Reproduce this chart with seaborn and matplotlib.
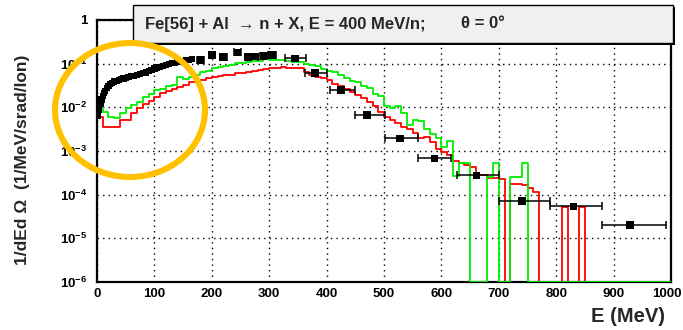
import numpy as np
import pandas as pd
import matplotlib
matplotlib.use("Agg")
import matplotlib.pyplot as plt
import matplotlib.transforms as mtransforms
import seaborn as sns
from matplotlib.patches import Rectangle, Ellipse

# ---------------- data ----------------
bin_width = 10  # MeV
bin_lo = list(range(0, 1000, 10))

# log10 of the simulated spectra per 10 MeV bin (None = empty bin)
red_log10 = [
    -2.21, -2.44, -2.44, -2.44, -2.29, -2.29, -2.14, -2.02, -1.93, -1.85,
    -1.76, -1.68, -1.63, -1.58, -1.53, -1.49, -1.43, -1.39, -1.37, -1.33,
    -1.30, -1.29, -1.26, -1.25, -1.22, -1.21, -1.18, -1.17, -1.14, -1.13,
    -1.11, -1.10, -1.07, -1.09, -1.10, -1.11, -1.20, -1.27, -1.30, -1.32,
    -1.38, -1.46, -1.52, -1.57, -1.64, -1.72, -1.79, -1.87, -1.98, -2.10,
    -2.21, -2.29, -2.35, -2.45, -2.49, -2.59, -2.70, -2.68, -2.80, -2.95,
    -3.03, -3.09, -3.24, -3.28, -3.32, -3.36, -3.55, -3.55, -3.62, -3.62,
    -3.64, None, -3.76, -3.76, -3.78, -3.85, -3.94, None, None, None,
    None, -4.28, None, None, -4.28, None, None, None, None, None,
    None, None, None, None, None, None, None, None, None, None,
]
green_log10 = [
    -1.87, -2.10, -2.22, -2.25, -2.12, -2.02, -1.95, -1.88, -1.76, -1.70,
    -1.60, -1.58, -1.52, -1.49, -1.30, -1.36, -1.30, -1.26, -1.18, -1.16,
    -1.10, -1.08, -1.06, -1.02, -0.99, -0.98, -0.96, -0.95, -0.93, -0.88,
    -0.92, -0.92, -0.92, -0.94, -0.96, -0.97, -1.00, -1.04, -1.05, -1.12,
    -1.16, -1.20, -1.25, -1.33, -1.40, -1.42, -1.50, -1.56, -1.70, -1.74,
    -1.98, -2.02, -1.98, -2.14, -2.40, -2.30, -2.32, -2.50, -2.60, -2.70,
    -2.90, -2.78, -3.58, -3.28, -3.28, None, None, None, -3.60, -3.28,
    None, None, -3.60, -3.60, -3.28, None, None, None, None, None,
    None, None, None, None, None, None, None, None, None, None,
    None, None, None, None, None, None, None, None, None, None,
]

# measured points, dense low-energy part
dense_E = [2, 4, 6, 8, 10, 12, 14, 17, 20, 23, 26, 30, 34, 38, 42, 46, 50, 55,
           60, 65, 70, 75, 80, 85, 90, 95, 100, 105, 110, 115, 120, 125, 130,
           135, 140, 145, 150, 155, 160, 165]
dense_log10 = [-2.20, -2.05, -1.92, -1.82, -1.74, -1.67, -1.62, -1.56, -1.51,
               -1.47, -1.44, -1.41, -1.39, -1.37, -1.35, -1.34, -1.33, -1.31,
               -1.29, -1.28, -1.26, -1.24, -1.22, -1.20, -1.17, -1.14, -1.11,
               -1.09, -1.07, -1.05, -1.03, -1.01, -0.99, -0.98, -0.96, -0.95,
               -0.93, -0.92, -0.91, -0.90]

# measured points with horizontal (bin) error bars
pts_E = [180, 200, 220, 245, 262, 275, 290, 305, 345, 380, 425, 470, 528, 588,
         661, 740, 830, 929]
pts_log10 = [-0.92, -0.80, -0.85, -0.74, -0.85, -0.84, -0.82, -0.80, -0.88,
             -1.22, -1.60, -2.18, -2.71, -3.17, -3.56, -4.14, -4.27, -4.69]
pts_Elo = [175, 195, 214, 239, 257, 269, 284, 298, 327, 362, 406, 449, 501,
           559, 627, 701, 789, 879]
pts_Ehi = [186, 206, 226, 251, 268, 281, 296, 312, 364, 400, 449, 501, 559,
           617, 701, 789, 879, 991]

title_txt = "Fe[56] + Al  \u2192 n + X, E = 400 MeV/n;"
theta_txt = "\u03b8 = 0\u00b0"
ylabel_txt = "1/dEd \u03a9  (1/MeV/srad/Ion)"
xlabel_txt = "E (MeV)"

# ---------------- style ----------------
sns.set_theme(style="white")
plt.rcParams["font.family"] = ["Liberation Sans", "DejaVu Sans"]
plt.rcParams["font.weight"] = "bold"
plt.rcParams["mathtext.fontset"] = "custom"
plt.rcParams["mathtext.rm"] = "Liberation Sans:bold"
plt.rcParams["mathtext.it"] = "Liberation Sans:bold"
plt.rcParams["mathtext.bf"] = "Liberation Sans:bold"

W, H = 683, 330
fig = plt.figure(figsize=(W / 100, H / 100), dpi=100)
fig.patch.set_facecolor("white")
ax = fig.add_axes([97 / W, 1 - 282 / H, (671 - 97) / W, (282 - 20) / H])
ax.set_facecolor("white")

YMIN, YMAX = 1e-6, 1.0


def hist_frame(vals):
    y = [10 ** v if v is not None else YMIN for v in vals]
    x = bin_lo + [bin_lo[-1] + bin_width]
    y = y + [y[-1]]
    return pd.DataFrame({"E": x, "v": y})


sns.lineplot(data=hist_frame(red_log10), x="E", y="v", ax=ax, color="#ff0000",
             lw=1.3, drawstyle="steps-post", estimator=None, sort=False,
             zorder=3)
sns.lineplot(data=hist_frame(green_log10), x="E", y="v", ax=ax, color="#00ee00",
             lw=1.3, drawstyle="steps-post", estimator=None, sort=False,
             zorder=4)

dense = pd.DataFrame({"E": dense_E, "v": [10 ** v for v in dense_log10]})
sns.scatterplot(data=dense, x="E", y="v", ax=ax, marker="s", s=20,
                color="black", edgecolor="none", zorder=5)

pts = pd.DataFrame({"E": pts_E, "v": [10 ** v for v in pts_log10],
                    "lo": pts_Elo, "hi": pts_Ehi})
ax.errorbar(pts["E"], pts["v"],
            xerr=[pts["E"] - pts["lo"], pts["hi"] - pts["E"]],
            fmt="none", ecolor="black", elinewidth=1.1, capsize=3,
            capthick=1.1, zorder=5)
sns.scatterplot(data=pts, x="E", y="v", ax=ax, marker="s", s=30,
                color="black", edgecolor="none", zorder=6)

ax.set_yscale("log")
ax.set_xlim(0, 1000)
ax.set_ylim(YMIN, YMAX)
ax.set_xticks(range(0, 1001, 100))
ax.set_xticks(range(50, 1000, 100), minor=True)
ax.set_xticklabels([str(v) for v in range(0, 1001, 100)])
ax.set_yticks([1e-6, 1e-5, 1e-4, 1e-3, 1e-2, 1e-1, 1])
ax.set_yticklabels([r"$10^{-6}$", r"$10^{-5}$", r"$10^{-4}$", r"$10^{-3}$",
                    r"$10^{-2}$", r"$10^{-1}$", "1"])
ax.yaxis.set_minor_locator(matplotlib.ticker.LogLocator(base=10,
                                                        subs=np.arange(2, 10)))
ax.yaxis.set_minor_formatter(matplotlib.ticker.NullFormatter())
ax.tick_params(axis="both", which="both", direction="in", colors="black",
               labelsize=9.5)
ax.tick_params(axis="x", which="major", length=9, width=1.3, pad=4,
               top=False)
ax.tick_params(axis="x", which="minor", length=5, width=1.1, top=False)
ax.tick_params(axis="y", which="major", length=11, width=1.3, pad=7,
               right=False)
ax.tick_params(axis="y", which="minor", length=6, width=1.1, right=False)
for lab in ax.get_xticklabels() + ax.get_yticklabels():
    lab.set_fontweight("bold")
# keep the last x label inside the canvas
last = ax.get_xticklabels()[-1]
last.set_transform(last.get_transform() +
                   mtransforms.ScaledTranslation(-4 / 100, 0,
                                                 fig.dpi_scale_trans))

ax.grid(True, which="major", linestyle=(0, (1, 3)), color="black", lw=1.0)
for s in ax.spines.values():
    s.set_color("black")
    s.set_linewidth(1.6)
ax.set_xlabel("")
ax.set_ylabel("")

fig.text(665 / W, 1 - 316 / H, xlabel_txt, ha="right", va="center",
         fontsize=14.5, fontweight="bold")
fig.text(23 / W, 1 - 160 / H, ylabel_txt, ha="center", va="center",
         rotation=90, fontsize=12.5, fontweight="bold")

# title box with shadow
fig.add_artist(Rectangle((135 / W, 1 - 45 / H), (673 - 133) / W, 38 / H,
                         transform=fig.transFigure, facecolor="black",
                         edgecolor="none", zorder=10))
fig.add_artist(Rectangle((133 / W, 1 - 43 / H), (673 - 133) / W, 38 / H,
                         transform=fig.transFigure, facecolor="#f0f0f0",
                         edgecolor="black", lw=1.0, zorder=11))
fig.text(145 / W, 1 - 24 / H, title_txt, ha="left", va="center",
         fontsize=12, fontweight="bold", zorder=12,
         family=["Liberation Sans", "DejaVu Sans"])
fig.text(461 / W, 1 - 24 / H, theta_txt, ha="left", va="center",
         fontsize=12, fontweight="bold", zorder=12,
         family=["Liberation Sans", "DejaVu Sans"])

# orange highlight ring
fig.add_artist(Ellipse((130 / W, 1 - 110 / H), 150 / W, 134 / H,
                       transform=fig.transFigure, fill=False,
                       edgecolor="#FFC000", lw=4.4, zorder=20))

fig.savefig("out.png", dpi=100)
